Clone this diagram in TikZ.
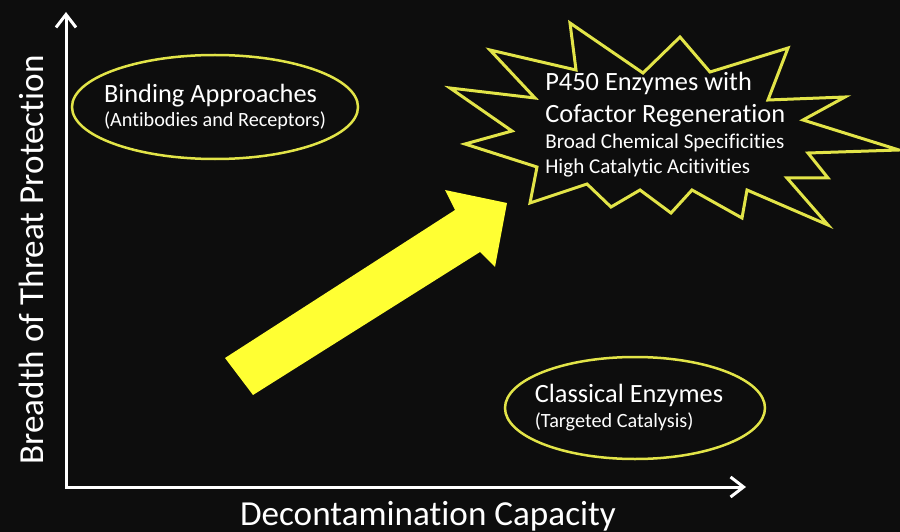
\documentclass[tikz,border=0pt]{standalone}
\usepackage{fontspec}
\setmainfont{Carlito}[Ligatures=NoCommon]
\usetikzlibrary{arrows.meta}

\definecolor{bgblack}{RGB}{13,13,13}
\definecolor{hiyellow}{RGB}{255,255,51}
\definecolor{rimyellow}{RGB}{226,228,72}

\begin{document}
\begin{tikzpicture}[x=0.2mm, y=-0.2mm,
		axisline/.style={draw=white, line width=0.6mm, {Straight Barb[length=2.6mm,width=4mm]}-{Straight Barb[length=2.6mm,width=4mm]}},
		oval/.style={draw=rimyellow, line width=0.5mm},
		burst/.style={draw=rimyellow, line width=0.6mm, fill=bgblack},
		boxtext/.style={text=white, inner sep=0pt, align=left, font=\fontsize{15}{14.2}\selectfont},
		axistext/.style={text=white, inner sep=0pt, font=\fontsize{20}{24}\selectfont}]
		\useasboundingbox (0,0) rectangle (900,532);
		\fill[bgblack] (0,0) rectangle (900,532);

		\fill[hiyellow] (225,358) -- (455,210) -- (445,190) -- (507,203) -- (495,267) -- (480,252) -- (253,395) -- cycle;

		\node[boxtext] (binding) at (215,107) {Binding Approaches\\{\fontsize{11.5}{14.2}\selectfont (Antibodies and Receptors)}};
		\draw[oval] (binding.center) ellipse [x radius=28.6mm, y radius=10.4mm];

		\node[boxtext] (classical) at (629,408) {Classical Enzymes\\{\fontsize{11.5}{14.2}\selectfont (Targeted Catalysis)}};
		\draw[oval] ([xshift=1.2mm]classical.center) ellipse [x radius=26mm, y radius=10.2mm];

		\draw[burst] (490,50) -- (576,70) -- (570,23) -- (643,73) -- (680,37) -- (710,72) -- (788,48) -- (768,100) -- (845,97) -- (803,120) -- (899,150) -- (808,153) -- (828,178) -- (787,178) -- (828,225) -- (747,190) -- (742,218) -- (692,190) -- (671,213) -- (640,190) -- (611,207) -- (587,184) -- (530,203) -- (537,167) -- (465,144) -- (512,131) -- (450,88) -- (535,98) -- cycle;
		\node[boxtext, anchor=west] (p450) at (545,125) {P450 Enzymes with\\[4pt]Cofactor Regeneration\\[0.6pt]{\fontsize{12}{14.2}\selectfont Broad Chemical Specificities}\\{\fontsize{12}{14.2}\selectfont High Catalytic Acitivities}};

		\coordinate (origin) at (66,487);
		\coordinate (ytop) at (66,12);
		\coordinate (xend) at (746,487);
		\draw[axisline] (ytop) -- (origin) -- (xend);
		\node[axistext, rotate=90, anchor=base] (ylabel) at (43,260) {Breadth of Threat Protection};
		\node[axistext, anchor=base] (xlabel) at (428,525) {Decontamination Capacity};
	\end{tikzpicture}
\end{document}
